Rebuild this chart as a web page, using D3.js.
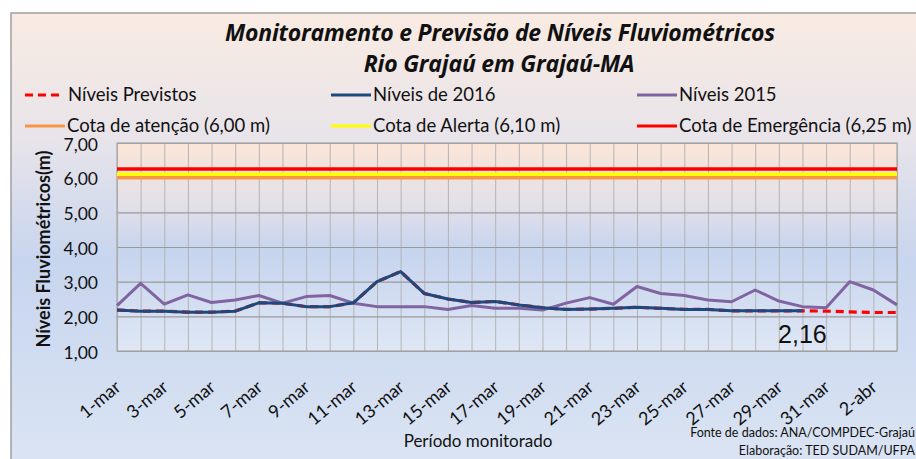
<!DOCTYPE html>
<html>
<head>
<meta charset="utf-8">
<script src="https://cdn.jsdelivr.net/npm/d3@7"></script>
<style>
body { margin: 0; background: #fff; }
text { font-family: Lato, "Open Sans", sans-serif; fill: #111; }
</style>
</head>
<body>
<div id="chart"></div>
<script>
const W = 916, H = 459;
const margin = {top: 143, right: 19, bottom: 108, left: 117};
const width = W - margin.left - margin.right,
      height = H - margin.top - margin.bottom;

// categorias (dias)
const dias = ["1-mar","2-mar","3-mar","4-mar","5-mar","6-mar","7-mar","8-mar","9-mar","10-mar",
  "11-mar","12-mar","13-mar","14-mar","15-mar","16-mar","17-mar","18-mar","19-mar","20-mar",
  "21-mar","22-mar","23-mar","24-mar","25-mar","26-mar","27-mar","28-mar","29-mar","30-mar",
  "31-mar","1-abr","2-abr","3-abr"];

const niveis2015 = [2.31, 2.95, 2.35, 2.62, 2.40, 2.47, 2.60, 2.38, 2.57, 2.60,
  2.38, 2.28, 2.28, 2.28, 2.20, 2.31, 2.23, 2.23, 2.18, 2.38,
  2.54, 2.35, 2.86, 2.66, 2.60, 2.47, 2.42, 2.76, 2.44, 2.28,
  2.25, 3.00, 2.76, 2.33];

const niveis2016 = [2.18, 2.15, 2.15, 2.12, 2.12, 2.15, 2.39, 2.38, 2.28, 2.28,
  2.39, 3.00, 3.29, 2.66, 2.50, 2.40, 2.43, 2.33, 2.25, 2.20,
  2.21, 2.23, 2.26, 2.23, 2.20, 2.20, 2.16, 2.16, 2.16, 2.16];

const previstos = [2.18, 2.15, 2.15, 2.12, 2.12, 2.15, 2.39, 2.38, 2.28, 2.28,
  2.39, 3.00, 3.29, 2.66, 2.50, 2.40, 2.43, 2.33, 2.25, 2.20,
  2.21, 2.23, 2.26, 2.23, 2.20, 2.20, 2.16, 2.16, 2.16, 2.16,
  2.15, 2.13, 2.11, 2.11];

const cotas = [
  {nome: "Cota de atenção (6,00 m)", valor: 6.00, cor: "#f79646"},
  {nome: "Cota de Alerta (6,10 m)", valor: 6.10, cor: "#ffff00"},
  {nome: "Cota de Emergência (6,25 m)", valor: 6.25, cor: "#ff0000"}
];

const yTicks = [1, 2, 3, 4, 5, 6, 7];
const rotulosX = dias.filter((d, i) => i % 2 === 0);
const ultimoIdx = niveis2016.length - 1;

const fmt = v => d3.format(".2f")(v).replace(".", ",");

const svg = d3.select("#chart").append("svg")
    .attr("width", W).attr("height", H);

const defs = svg.append("defs");
const gOut = defs.append("linearGradient").attr("id", "bgOut")
    .attr("x1", 0).attr("y1", 0).attr("x2", 0).attr("y2", 1);
[["0%", "#f9ebe2"], ["26%", "#e8e4ea"], ["52%", "#c7d5ee"], ["100%", "#dde6f4"]]
  .forEach(s => gOut.append("stop").attr("offset", s[0]).attr("stop-color", s[1]));
const gIn = defs.append("linearGradient").attr("id", "bgIn")
    .attr("x1", 0).attr("y1", 0).attr("x2", 0).attr("y2", 1);
[["0%", "#fce5d7"], ["30%", "#e2e0ea"], ["52%", "#c6d4ee"], ["100%", "#dfe7f5"]]
  .forEach(s => gIn.append("stop").attr("offset", s[0]).attr("stop-color", s[1]));

// area do grafico
svg.append("rect")
    .attr("x", 11).attr("y", 13).attr("width", 940).attr("height", 480)
    .attr("fill", "url(#bgOut)").attr("stroke", "#a0a0a0").attr("stroke-width", 1.5);

const canvas = svg.append("g")
    .attr("transform", "translate(" + margin.left + "," + margin.top + ")");

const x = d3.scalePoint().domain(dias).range([0, width]);
const y = d3.scaleLinear().domain([1, 7]).range([height, 0]);

canvas.append("rect")
    .attr("width", width).attr("height", height)
    .attr("fill", "url(#bgIn)");

// grades
canvas.append("g")
    .call(d3.axisBottom(x).tickSize(-height).tickFormat(""))
    .attr("transform", "translate(0," + height + ")")
    .call(g => g.select(".domain").remove())
    .call(g => g.selectAll("line").attr("stroke", "#b4b4b4").attr("stroke-width", 1));

canvas.append("g")
    .call(d3.axisLeft(y).tickValues(yTicks).tickSize(-width).tickFormat(""))
    .call(g => g.select(".domain").remove())
    .call(g => g.selectAll("line").attr("stroke", "#9a9a9a").attr("stroke-width", 1.2));

canvas.append("rect")
    .attr("width", width).attr("height", height)
    .attr("fill", "none").attr("stroke", "#a6a6a6").attr("stroke-width", 1.2);

// eixo y
canvas.append("g")
    .call(d3.axisLeft(y).tickValues(yTicks).tickSize(0).tickPadding(19).tickFormat(fmt))
    .call(g => g.select(".domain").remove())
    .call(g => g.selectAll("text").style("font-size", "17.5px").attr("fill", "#111")
        .attr("dy", "0.4em").style("font-family", "Lato"));

// eixo x
canvas.append("g")
    .attr("transform", "translate(0," + height + ")")
    .selectAll("text")
    .data(rotulosX)
    .join("text")
      .attr("transform", d => "translate(" + (x(d) + 5) + ",38) rotate(-40)")
      .attr("text-anchor", "end")
      .style("font-size", "18px")
      .text(d => d);

// cotas
cotas.forEach(c => {
  canvas.append("line")
    .attr("x1", 0).attr("x2", width)
    .attr("y1", y(c.valor)).attr("y2", y(c.valor))
    .attr("stroke", c.cor).attr("stroke-width", 3.5);
});

const linha = d3.line().x((d, i) => x(dias[i])).y(d => y(d));

canvas.append("path").datum(previstos)
    .attr("d", linha).attr("fill", "none")
    .attr("stroke", "#ff0000").attr("stroke-width", 3.2)
    .attr("stroke-dasharray", "8,5");

canvas.append("path").datum(niveis2015)
    .attr("d", linha).attr("fill", "none")
    .attr("stroke", "#8064a2").attr("stroke-width", 3)
    .attr("stroke-linejoin", "round");

canvas.append("path").datum(niveis2016)
    .attr("d", linha).attr("fill", "none")
    .attr("stroke", "#1f497d").attr("stroke-width", 3)
    .attr("stroke-linejoin", "round");

// rotulo do ultimo valor
canvas.append("text")
    .attr("x", x(dias[ultimoIdx]))
    .attr("y", y(niveis2016[ultimoIdx]) + 32)
    .attr("text-anchor", "middle")
    .style("font-family", "'Liberation Sans', Arial, sans-serif")
    .style("font-size", "25px")
    .text(fmt(niveis2016[ultimoIdx]));

// titulos
svg.append("text").attr("x", 500).attr("y", 41)
    .attr("text-anchor", "middle")
    .style("font-family", "'Open Sans', Lato, sans-serif")
    .style("font-size", "23px").style("font-weight", "bold").style("font-style", "italic")
    .style("letter-spacing", "-0.2px")
    .text("Monitoramento e Previsão de Níveis Fluviométricos");
svg.append("text").attr("x", 499).attr("y", 72)
    .attr("text-anchor", "middle")
    .style("font-family", "'Open Sans', Lato, sans-serif")
    .style("font-size", "23px").style("font-weight", "bold").style("font-style", "italic")
    .style("letter-spacing", "-0.2px")
    .text("Rio Grajaú em Grajaú-MA");

svg.append("text")
    .attr("transform", "translate(50," + (margin.top + height / 2 + 2) + ") rotate(-90)")
    .attr("text-anchor", "middle")
    .style("font-size", "18px").style("font-weight", "bold")
    .text("Níveis Fluviométricos(m)");

svg.append("text").attr("x", 478).attr("y", 447)
    .attr("text-anchor", "middle")
    .style("font-size", "17px")
    .text("Período monitorado");

svg.append("text").attr("x", 915).attr("y", 437)
    .attr("text-anchor", "end").style("font-size", "12.5px")
    .text("Fonte de dados: ANA/COMPDEC-Grajaú");
svg.append("text").attr("x", 915).attr("y", 455)
    .attr("text-anchor", "end").style("font-size", "12.5px")
    .text("Elaboração: TED SUDAM/UFPA");

// legenda
const legenda = [
  {nome: "Níveis Previstos", cor: "#ff0000", dash: "8,5", x: 25, y: 95},
  {nome: "Níveis de 2016", cor: "#1f497d", dash: null, x: 331, y: 95},
  {nome: "Níveis 2015", cor: "#8064a2", dash: null, x: 637, y: 95},
  {nome: cotas[0].nome, cor: cotas[0].cor, dash: null, x: 25, y: 126},
  {nome: cotas[1].nome, cor: cotas[1].cor, dash: null, x: 331, y: 126},
  {nome: cotas[2].nome, cor: cotas[2].cor, dash: null, x: 637, y: 126}
];

const li = svg.selectAll(".leg").data(legenda).join("g")
    .attr("class", "leg")
    .attr("transform", d => "translate(" + d.x + "," + d.y + ")");
li.append("line")
    .attr("x1", 0).attr("x2", d => d.dash ? 36 : 40)
    .attr("stroke", d => d.cor).attr("stroke-width", 3)
    .attr("stroke-dasharray", d => d.dash);
li.append("text")
    .attr("x", d => d.dash ? 43 : 42).attr("y", 6)
    .style("font-size", "18.5px")
    .text(d => d.nome);
</script>
</body>
</html>
